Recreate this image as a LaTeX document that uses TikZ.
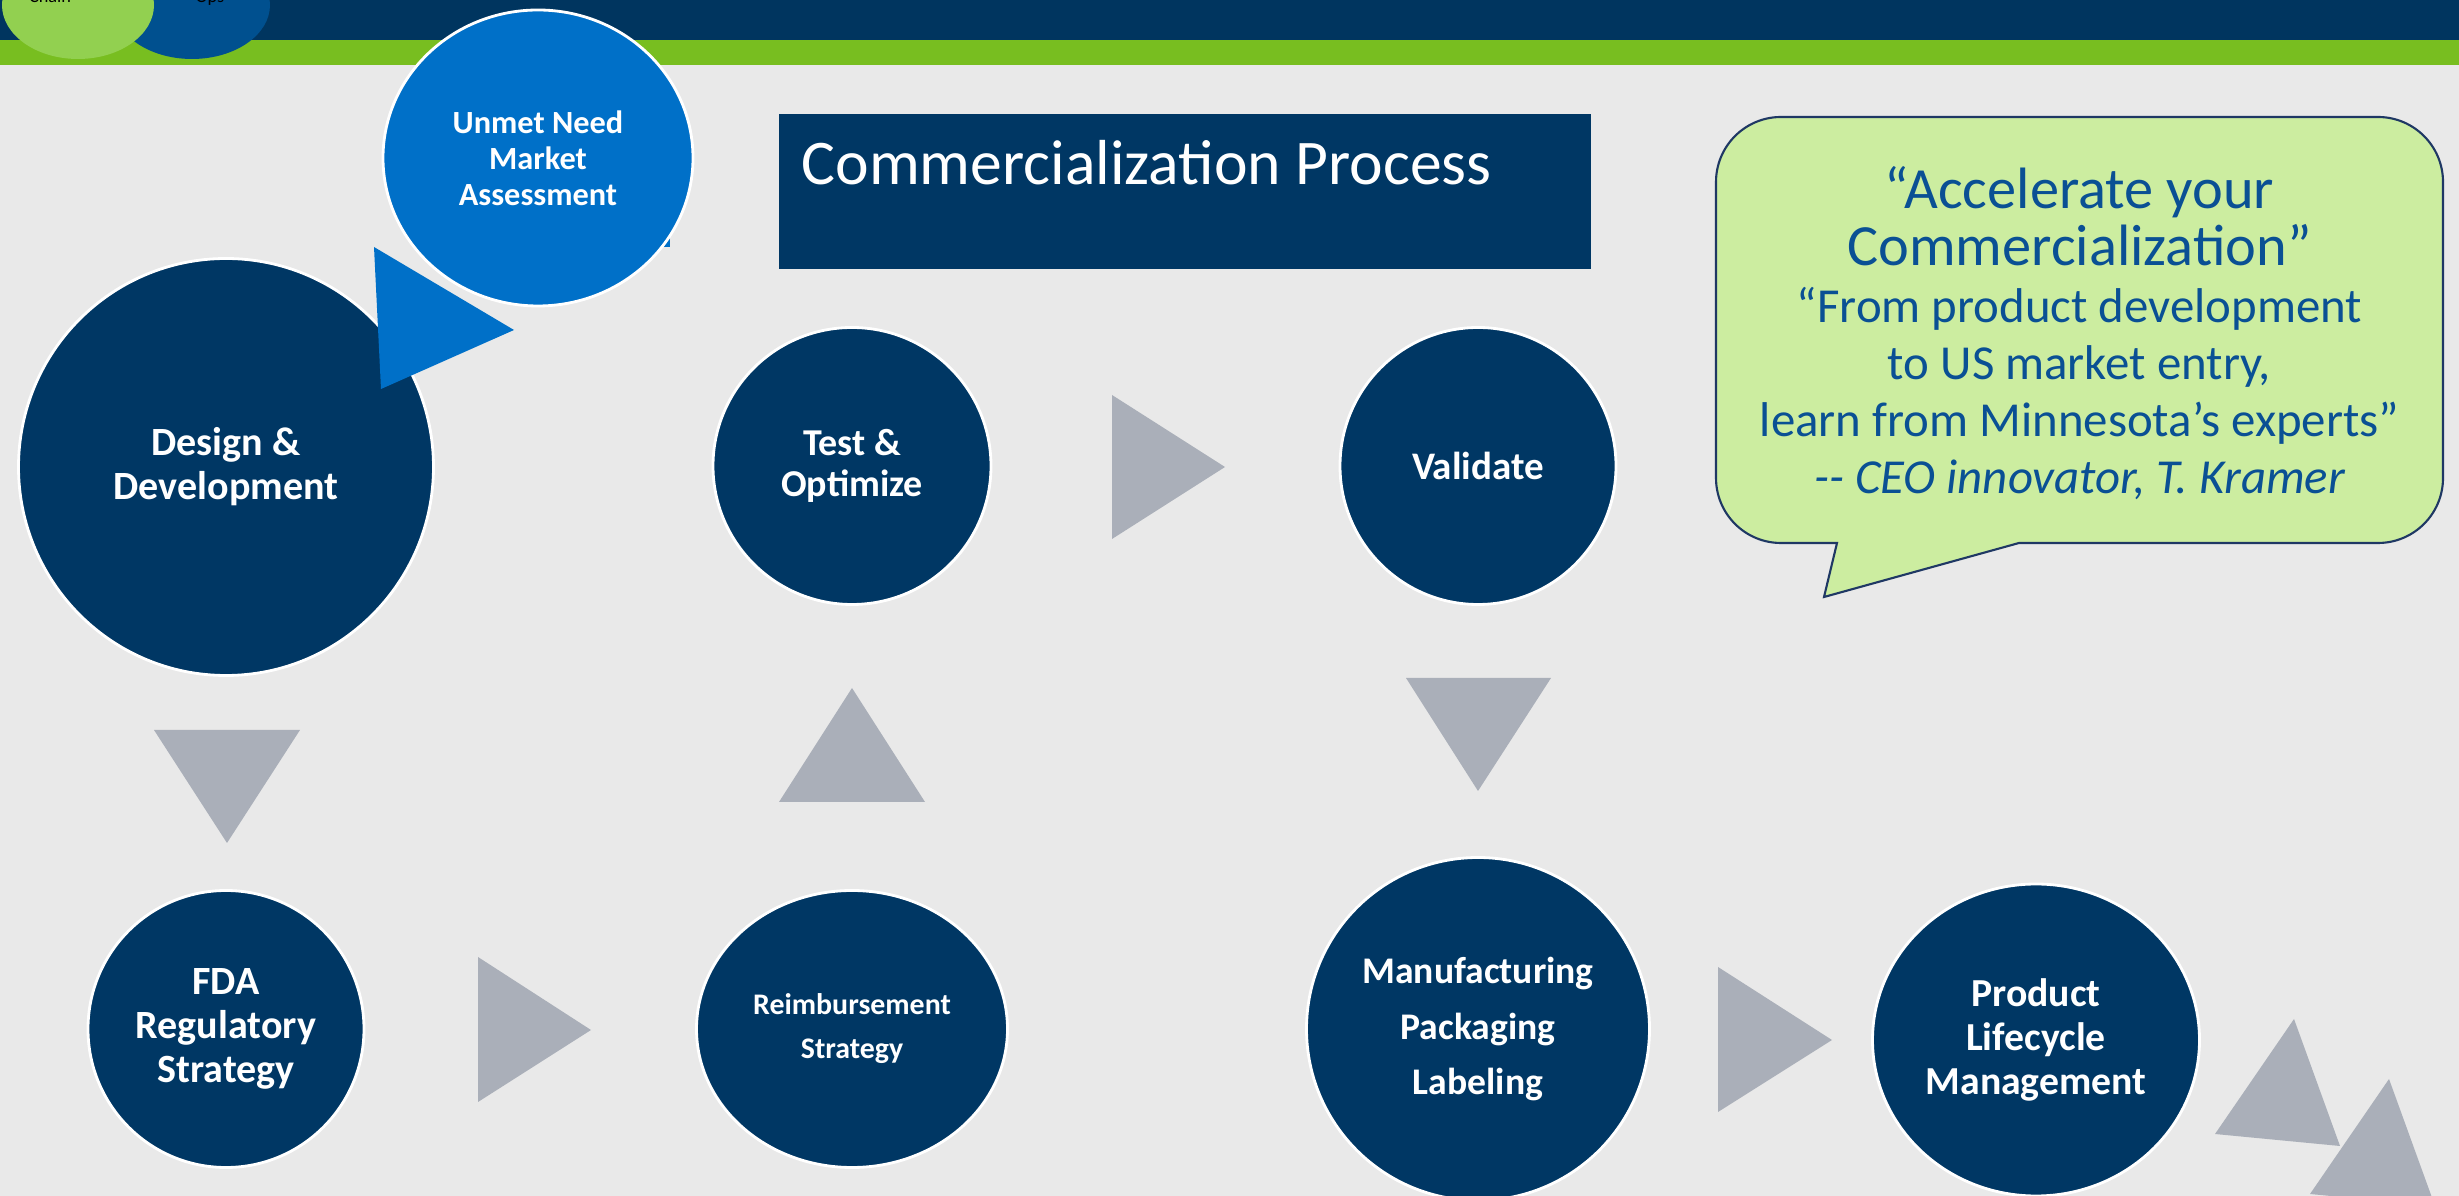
\documentclass[tikz,border=0pt]{standalone}
\usepackage{fontspec}
\setmainfont{Carlito}
\usepackage{tikz}
\usetikzlibrary{shapes.geometric}
\definecolor{navy}{HTML}{003764}
\definecolor{bandnavy}{HTML}{00355F}
\definecolor{bandgreen}{HTML}{78BE20}
\definecolor{bggray}{HTML}{E9E9E9}
\definecolor{trigray}{HTML}{AAAFB9}
\definecolor{brightblue}{HTML}{0070C8}
\definecolor{midblue}{HTML}{00508F}
\definecolor{leafgreen}{HTML}{92D050}
\definecolor{bubblegreen}{HTML}{CCEDA0}
\definecolor{bubbleline}{HTML}{1F3864}
\definecolor{quoteblue}{HTML}{0A5094}

\begin{document}
\begin{tikzpicture}[
  stage/.style={ellipse, draw=white, line width=0.8pt, fill=navy, text=white, align=center, inner sep=0pt},
  arrowtri/.style={fill=trigray},
]

\clip (0, 0) rectangle (24.59, -11.96);
\fill[bggray] (0, 0) rectangle (24.59, -11.96);
\fill[bandnavy] (0, 0) rectangle (24.59, -0.40);
\fill[bandgreen] (0, -0.40) rectangle (24.59, -0.655);

\path (1.92, -0.05) node[ellipse, fill=midblue, minimum width=1.56cm, minimum height=1.08cm, inner sep=0pt] (opsdisc) {};
\path (0.78, -0.05) node[ellipse, fill=leafgreen, minimum width=1.52cm, minimum height=1.08cm, inner sep=0pt] (chaindisc) {};
\path (0.50, -0.03) node[anchor=base, font=\fontsize{5.2}{6}\selectfont, inner sep=0pt] (chain) {Chain};
\path (2.10, -0.03) node[anchor=base, font=\fontsize{5.2}{6}\selectfont, inner sep=0pt] (ops) {Ops};

\fill[brightblue] (4.13, -0.78) rectangle (6.70, -2.47);
\path (5.38, -1.58) node[stage, fill=brightblue, minimum width=3.10cm, minimum height=2.96cm, font=\fontsize{9.2}{10.2}\selectfont\bfseries] (unmet) {Unmet Need\\Market\\Assessment};

\path (2.26, -4.67) node[stage, minimum width=4.15cm, minimum height=4.17cm, font=\fontsize{11.4}{12.5}\selectfont\bfseries] (design) {Design \&\\Development};
\fill[brightblue] (3.74, -2.47) -- (5.14, -3.30) -- (3.81, -3.89) -- cycle;

\path (8.52, -4.66) node[stage, minimum width=2.78cm, minimum height=2.77cm, font=\fontsize{10.8}{11.6}\selectfont\bfseries] (test) {Test \&\\Optimize};
\path (14.78, -4.66) node[stage, minimum width=2.76cm, minimum height=2.77cm, font=\fontsize{11.1}{12.5}\selectfont\bfseries] (validate) {Validate};
\path (2.26, -10.29) node[stage, minimum width=2.76cm, minimum height=2.77cm, font=\fontsize{11.4}{12.5}\selectfont\bfseries] (fda) {FDA\\Regulatory\\Strategy};
\path (8.52, -10.29) node[stage, minimum width=3.11cm, minimum height=2.77cm, font=\fontsize{8.5}{12.5}\selectfont\bfseries] (reimb) {Reimbursement\\Strategy};
\path (14.78, -10.29) node[stage, minimum width=3.43cm, minimum height=3.43cm, font=\fontsize{10.7}{15.9}\selectfont\bfseries] (manuf) {Manufacturing\\Packaging\\Labeling};
\path (20.36, -10.40) node[stage, minimum width=3.27cm, minimum height=3.12cm, font=\fontsize{11.3}{12.5}\selectfont\bfseries] (lifecycle) {Product\\Lifecycle\\Management};

\fill[arrowtri] (1.54, -7.30) -- (3.00, -7.30) -- (2.27, -8.43) -- cycle;
\fill[arrowtri] (4.78, -9.57) -- (4.78, -11.02) -- (5.91, -10.30) -- cycle;
\fill[arrowtri] (7.79, -8.02) -- (9.25, -8.02) -- (8.52, -6.88) -- cycle;
\fill[arrowtri] (11.12, -3.95) -- (11.12, -5.39) -- (12.25, -4.67) -- cycle;
\fill[arrowtri] (14.06, -6.78) -- (15.51, -6.78) -- (14.78, -7.91) -- cycle;
\fill[arrowtri] (17.18, -9.67) -- (17.18, -11.12) -- (18.32, -10.40) -- cycle;
\fill[arrowtri] (22.94, -10.19) -- (22.15, -11.34) -- (23.40, -11.46) -- cycle;
\fill[arrowtri] (23.89, -10.79) -- (23.10, -11.94) -- (24.35, -12.06) -- cycle;

\path (11.85, -1.915) node[fill=navy, minimum width=8.12cm, minimum height=1.55cm, inner sep=0pt] (titlebox) {};
\path (8.01, -1.85) node[anchor=base west, inner sep=0pt, text=white, font=\fontsize{18.1}{21}\selectfont] (title) {Commercialization Process};

\draw[bubbleline, fill=bubblegreen, line width=0.6pt] (18.37, -5.43) -- (18.24, -5.97) -- (20.19, -5.43) -- (23.78, -5.43)
  arc[start angle=270, end angle=360, radius=0.65] -- (24.43, -1.82)
  arc[start angle=0, end angle=90, radius=0.65] -- (17.81, -1.17)
  arc[start angle=90, end angle=180, radius=0.65] -- (17.16, -4.78)
  arc[start angle=180, end angle=270, radius=0.65] -- cycle;
\path (20.795, -3.33) node[align=center, text=quoteblue, inner sep=0pt, font=\fontsize{13.9}{16.2}\selectfont] (quote) {%
  {\fontsize{16.6}{16.2}\selectfont “Accelerate your}\\
  {\fontsize{16.6}{16.2}\selectfont Commercialization”}\\
  “From product development\\
  to US market entry,\\
  learn from Minnesota’s experts”\\
  {\itshape -{}- CEO innovator, T. Kramer}};

\end{tikzpicture}
\end{document}
